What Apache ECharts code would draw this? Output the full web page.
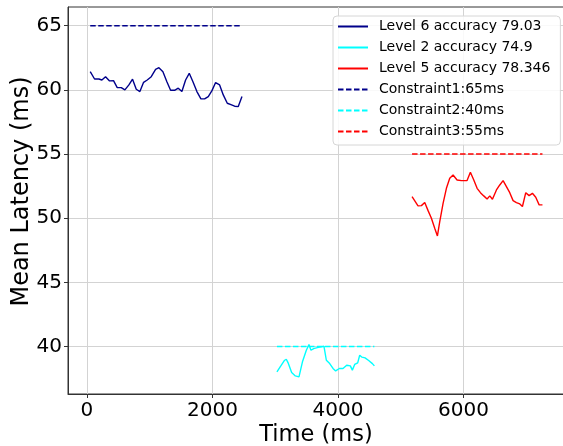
<!DOCTYPE html>
<html><head><meta charset="utf-8">
<script src="https://cdn.jsdelivr.net/npm/echarts@6/dist/echarts.min.js"></script>
<style>html,body{margin:0;padding:0;background:#fff}#c{width:563px;height:446px}</style>
</head><body><div id="c"></div>
<script>
const blueX = [54,123,192,240,298,362,425,484,548,606,670,728,787,845,904,962,1026,1095,1148,1212,1275,1334,1398,1456,1514,1573,1631,1690,1753,1817,1876,1934,1993,2051,2115,2173,2237,2295,2354,2412,2471];
const blueY = [61.42,60.85,60.85,60.77,61.03,60.70,60.72,60.18,60.18,60.00,60.39,60.83,60.05,59.87,60.59,60.77,61.03,61.60,61.73,61.42,60.64,59.97,59.97,60.13,59.87,60.77,61.29,60.64,59.87,59.30,59.30,59.48,59.94,60.57,60.39,59.61,58.96,58.85,58.73,58.70,59.48];
const cyanX = [3028,3087,3145,3177,3204,3262,3321,3379,3437,3496,3538,3570,3613,3671,3730,3777,3815,3868,3921,3963,4022,4080,4139,4197,4229,4266,4314,4346,4383,4431,4489,4548,4580];
const cyanY = [38.03,38.47,38.91,39.01,38.75,37.97,37.71,37.64,38.86,39.71,40.15,39.71,39.84,39.92,39.97,40.02,38.93,38.67,38.29,38.10,38.29,38.29,38.54,38.49,38.16,38.60,38.73,39.32,39.17,39.12,38.91,38.67,38.49];
const redX = [5180,5275,5329,5382,5435,5488,5541,5584,5621,5674,5727,5780,5833,5860,5897,5966,6019,6056,6109,6163,6216,6269,6322,6375,6418,6460,6524,6577,6630,6683,6736,6789,6842,6896,6938,6991,7044,7097,7150,7204,7257];
const redY = [51.68,50.96,50.98,51.22,50.59,50.00,49.22,48.62,49.74,51.16,52.33,53.11,53.37,53.24,52.98,52.93,52.93,52.93,53.58,52.98,52.33,51.99,51.74,51.50,51.74,51.48,52.20,52.59,52.93,52.46,51.99,51.37,51.22,51.11,50.91,51.99,51.76,51.94,51.63,51.04,51.04];
const seriesNames = ['Level 6 accuracy 79.03','Level 2 accuracy 74.9','Level 5 accuracy 78.346'];
const constraintNames = ['Constraint1:65ms','Constraint2:40ms','Constraint3:55ms'];
const constraintValues = [65, 40, 55];
const xTicks = [0, 2000, 4000, 6000];
const yTicks = [40, 45, 50, 55, 60, 65];

const colors = ['#00008b', '#00ffff', '#ff0000'];
const xs = [blueX, cyanX, redX];
const ys = [blueY, cyanY, redY];
const FONT = 'DejaVu Sans';
const series = [];
for (let i = 0; i < 3; i++) {
  series.push({
    name: seriesNames[i], type: 'line', symbol: 'none', animation: false,
    lineStyle: {color: colors[i], width: 1.4}, itemStyle: {color: colors[i]},
    data: xs[i].map((x, j) => [x, ys[i][j]])
  });
}
for (let i = 0; i < 3; i++) {
  const x0 = xs[i][0], x1 = xs[i][xs[i].length - 1];
  series.push({
    name: constraintNames[i], type: 'line', symbol: 'none', animation: false,
    lineStyle: {color: colors[i], width: 1.6, type: [5.5, 2.5]}, itemStyle: {color: colors[i]},
    data: [[x0, constraintValues[i]], [x1, constraintValues[i]]]
  });
}
const chart = echarts.init(document.getElementById('c'), null, {renderer: 'canvas'});
chart.setOption({
  animation: false,
  backgroundColor: '#fff',
  grid: {left: 68, top: 7, right: -1, bottom: 52, containLabel: false, outerBoundsMode: 'none',
         show: true, borderColor: '#333', borderWidth: 1, backgroundColor: 'transparent'},
  legend: {
    orient: 'vertical', left: 333, top: 16,
    itemWidth: 30, itemHeight: 14, itemGap: 7,
    padding: [3.5, 10, 6.5, 4],
    backgroundColor: 'rgba(255,255,255,0.85)', borderColor: '#d6d6d6', borderWidth: 1, borderRadius: 4,
    itemStyle: {opacity: 0},
    textStyle: {fontFamily: FONT, fontSize: 14, color: '#000', padding: [0, 0, 0, 6]},
    data: seriesNames.concat(constraintNames)
  },
  xAxis: {
    type: 'value', min: -300, max: 7600, splitNumber: 5,
    name: 'Time (ms)', nameLocation: 'middle', nameGap: 30, nameMoveOverlap: false,
    nameTextStyle: {fontFamily: FONT, fontSize: 22.5, color: '#000'},
    axisLine: {show: true, onZero: false, lineStyle: {color: '#333', width: 1}},
    axisTick: {show: true, length: 4, customValues: xTicks, lineStyle: {color: '#333'}},
    axisLabel: {customValues: xTicks, fontFamily: FONT, fontSize: 20, color: '#000', margin: 7, formatter: v => String(v)},
    splitLine: {show: true, lineStyle: {color: '#d3d3d3', width: 1}}
  },
  yAxis: {
    type: 'value', min: 36.3, max: 66.46, splitNumber: 6,
    name: 'Mean Latency (ms)', nameLocation: 'middle', nameGap: 34, nameMoveOverlap: false,
    nameTextStyle: {fontFamily: FONT, fontSize: 24, color: '#000', padding: [0, 0, 0, 18]},
    axisLine: {show: true, onZero: false, lineStyle: {color: '#333', width: 1}},
    axisTick: {show: true, length: 4, customValues: yTicks, lineStyle: {color: '#333'}},
    axisLabel: {customValues: yTicks, fontFamily: FONT, fontSize: 20, color: '#000', margin: 6, formatter: v => String(v)},
    splitLine: {show: true, lineStyle: {color: '#d3d3d3', width: 1}}
  },
  series: series
});
</script>
</body></html>
